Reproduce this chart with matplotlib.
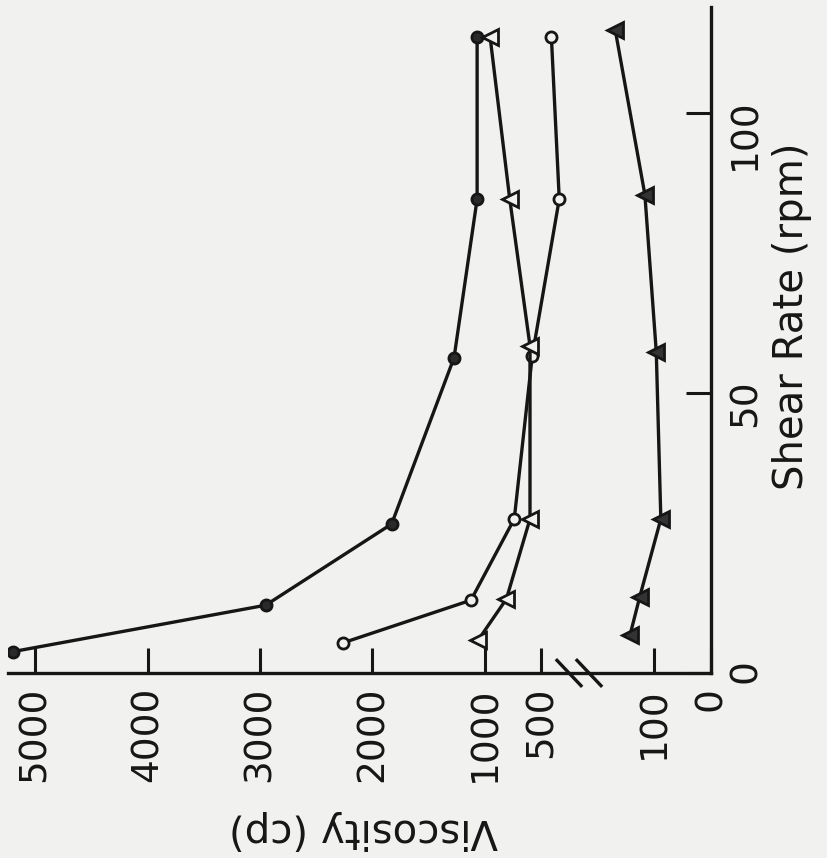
import matplotlib.pyplot as plt
import numpy as np

# shear rate (rpm) against viscosity (cp) for the four samples
rpm_filled_circle = [3.8, 12.1, 26.6, 56.3, 84.6, 113.6]
visc_filled_circle = [5200, 2950, 1830, 1275, 1070, 1070]

rpm_open_circle = [5.4, 13.0, 27.5, 56.6, 84.6, 113.6]
visc_open_circle = [2260, 1125, 740, 580, 340, 410]

rpm_open_triangle = [5.9, 13.2, 27.5, 58.4, 84.6, 113.6]
visc_open_triangle = [1060, 810, 600, 600, 780, 955]

rpm_filled_triangle = [6.8, 13.6, 27.5, 57.3, 85.4, 114.8]
visc_filled_triangle = [142, 125, 88, 96, 116, 168]

visc_ticks = [5000, 4000, 3000, 2000, 1000, 500, 100, 0]
rpm_ticks = [0, 50, 100]

# broken viscosity axis: 0-180 cp stretched out, a gap, then linear above 300 cp
knot_visc = [-1000, 0, 180, 300, 10000]
knot_pos = [-570, 0, 102.6, 147.25, 1238.5]


def forward(v):
    return np.interp(v, knot_visc, knot_pos)


def inverse(p):
    return np.interp(p, knot_pos, knot_visc)


paper = '#f1f1ef'
ink = '#161616'

fig = plt.figure(figsize=(8.28, 8.58), dpi=100, facecolor=paper)
ax = fig.add_axes([8 / 828, 185 / 858, 703 / 828, 666 / 858], facecolor=paper)
ax.set_xscale('function', functions=(forward, inverse))
ax.set_xlim(inverse(703), 0)
ax.set_ylim(0, 118.9)

line_kw = dict(color=ink, lw=2.4, mec=ink, mew=2.0)
ax.plot(visc_filled_circle, rpm_filled_circle, marker='o', ms=8, mfc='#2a2a2a', **line_kw)
ax.plot(visc_open_circle, rpm_open_circle, marker='o', ms=8, mfc=paper, **line_kw)
ax.plot(visc_open_triangle, rpm_open_triangle, marker='<', ms=11, mfc=paper, **line_kw)
ax.plot(visc_filled_triangle, rpm_filled_triangle, marker='<', ms=11, mfc='#333333', **line_kw)

for side in ['top', 'left']:
    ax.spines[side].set_visible(False)
for side in ['right', 'bottom']:
    ax.spines[side].set_linewidth(2.4)
    ax.spines[side].set_color(ink)

ax.yaxis.tick_right()
ax.set_xticks(visc_ticks)
ax.set_xticklabels([str(t) for t in visc_ticks])
ax.set_yticks(rpm_ticks)
ax.minorticks_off()
ax.tick_params(axis='both', direction='in', length=18, width=2.2, colors=ink, labelsize=27)
ax.tick_params(axis='x', pad=10, labelrotation=90)
ax.tick_params(axis='y', pad=12, labelrotation=90)

# break marks on the viscosity axis
for p in [142, 122]:
    ax.plot(inverse([p + 12, p - 12]), [0.019, -0.019], transform=ax.get_xaxis_transform(),
            color=ink, lw=2.4, clip_on=False)

ax.text(0.505, -0.236, 'Viscosity (cp)', transform=ax.transAxes, rotation=180,
        ha='center', va='center', fontsize=29, color=ink)
ax.text(1.115, 0.536, 'Shear Rate (rpm)', transform=ax.transAxes, rotation=90,
        ha='center', va='center', fontsize=29, color=ink)

plt.savefig('out.png', dpi=100, facecolor=paper)
